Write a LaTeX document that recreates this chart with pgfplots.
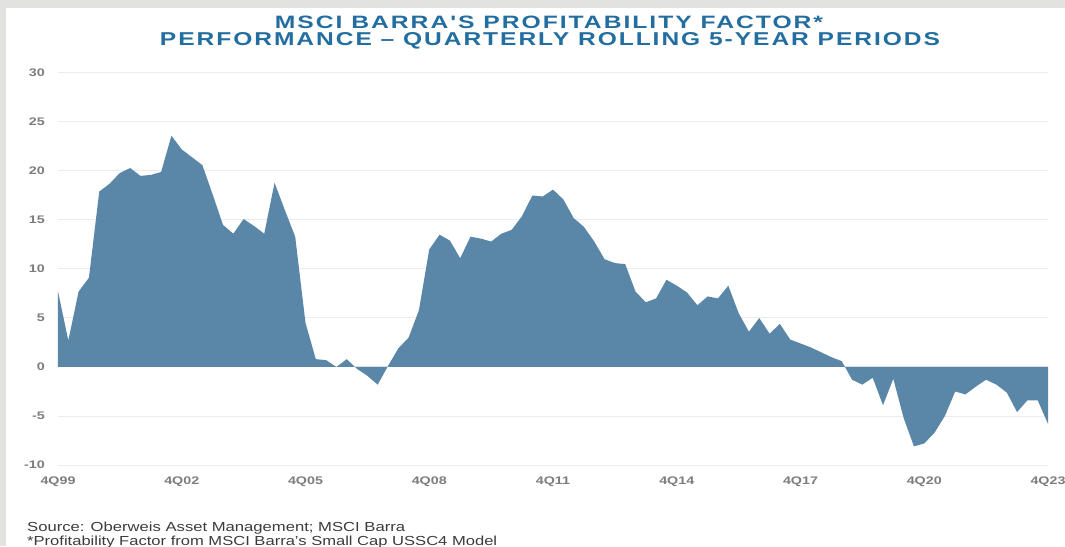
\documentclass[border=0pt]{standalone}
\usepackage{fontspec}
\setmainfont{Liberation Sans}
\usepackage{graphicx}
\usepackage{pgfplots}
\pgfplotsset{compat=1.18}
\newfontfamily\tickfont[FakeStretch=1.3]{Liberation Sans}
\newfontfamily\titlefont[LetterSpace=8]{Liberation Sans}
\definecolor{fillblue}{RGB}{90,134,168}
\definecolor{titleblue}{RGB}{35,110,160}
\definecolor{tickgray}{RGB}{125,125,125}
\definecolor{gridgray}{RGB}{236,236,236}
\definecolor{bordergray}{RGB}{226,226,224}
\definecolor{footgray}{RGB}{60,60,60}
\begin{document}
\begin{tikzpicture}
\useasboundingbox (-58pt,-81pt) rectangle (1007pt,465pt);
\fill[bordergray] (-58pt,-81pt) rectangle (1007pt,465pt);
\fill[white] (-52pt,-81pt) rectangle (1007pt,457pt);
\begin{axis}[
  at={(0pt,0pt)}, anchor=south west,
  scale only axis, width=990pt, height=392pt,
  xmin=0, xmax=96, ymin=-10, ymax=30,
  axis line style={draw=none},
  major tick length=0pt,
  xtick={0,12,...,96},
  xticklabels={4Q99,4Q02,4Q05,4Q08,4Q11,4Q14,4Q17,4Q20,4Q23},
  ytick={-10,-5,...,30},
  ymajorgrids,
  grid style={gridgray, line width=1pt},
  tick label style={font=\tickfont\bfseries\fontsize{11}{13}\selectfont, text=tickgray, inner sep=0pt},
  yticklabel style={anchor=east, xshift=-13pt},
  xticklabel style={anchor=north, yshift=-12pt},
  /pgf/number format/assume math mode=true,
  clip=false,
]
\addplot[fill=fillblue, draw=none] coordinates {
(0,7.7) (1,2.7) (2,7.7) (3,9.1) (4,17.9) (5,18.7) (6,19.8) (7,20.3) (8,19.5) (9,19.6)
(10,19.9) (11,23.6) (12,22.2) (13,21.4) (14,20.6) (15,17.6) (16,14.5) (17,13.6) (18,15.1) (19,14.4)
(20,13.6) (21,18.8) (22,16.0) (23,13.3) (24,4.5) (25,0.8) (26,0.7) (27,0.0) (28,0.8) (29,-0.2)
(30,-0.9) (31,-1.8) (32,0.1) (33,1.9) (34,3.0) (35,5.8) (36,12.0) (37,13.5) (38,12.9) (39,11.1)
(40,13.3) (41,13.1) (42,12.8) (43,13.6) (44,14.0) (45,15.4) (46,17.5) (47,17.4) (48,18.1) (49,17.1)
(50,15.2) (51,14.3) (52,12.8) (53,11.0) (54,10.6) (55,10.5) (56,7.7) (57,6.6) (58,7.0) (59,8.9)
(60,8.3) (61,7.6) (62,6.3) (63,7.2) (64,7.0) (65,8.3) (66,5.5) (67,3.6) (68,5.0) (69,3.4)
(70,4.4) (71,2.8) (72,2.4) (73,2.0) (74,1.5) (75,1.0) (76,0.6) (77,-1.3) (78,-1.8) (79,-1.1)
(80,-3.9) (81,-1.2) (82,-5.2) (83,-8.1) (84,-7.8) (85,-6.7) (86,-5.0) (87,-2.5) (88,-2.8) (89,-2.0)
(90,-1.3) (91,-1.8) (92,-2.6) (93,-4.6) (94,-3.4) (95,-3.4) (96,-5.8)
} \closedcycle;
\end{axis}
\node[text=titleblue, inner sep=0pt] at (491pt,443pt) {\resizebox{548pt}{12.5pt}{\titlefont\bfseries MSCI BARRA'S PROFITABILITY FACTOR*}};
\node[text=titleblue, inner sep=0pt] at (492pt,424pt) {\resizebox{780pt}{13pt}{\titlefont\bfseries PERFORMANCE – QUARTERLY ROLLING 5-YEAR PERIODS}};
\node[text=footgray, inner sep=0pt, anchor=base west] at (-31pt,-66pt) {\resizebox{378pt}{9.5pt}{Source: Oberweis Asset Management; MSCI Barra}};
\node[text=footgray, inner sep=0pt, anchor=base west] at (-31pt,-80pt) {\resizebox{470pt}{9.5pt}{*Profitability Factor from MSCI Barra's Small Cap USSC4 Model}};
\end{tikzpicture}
\end{document}
